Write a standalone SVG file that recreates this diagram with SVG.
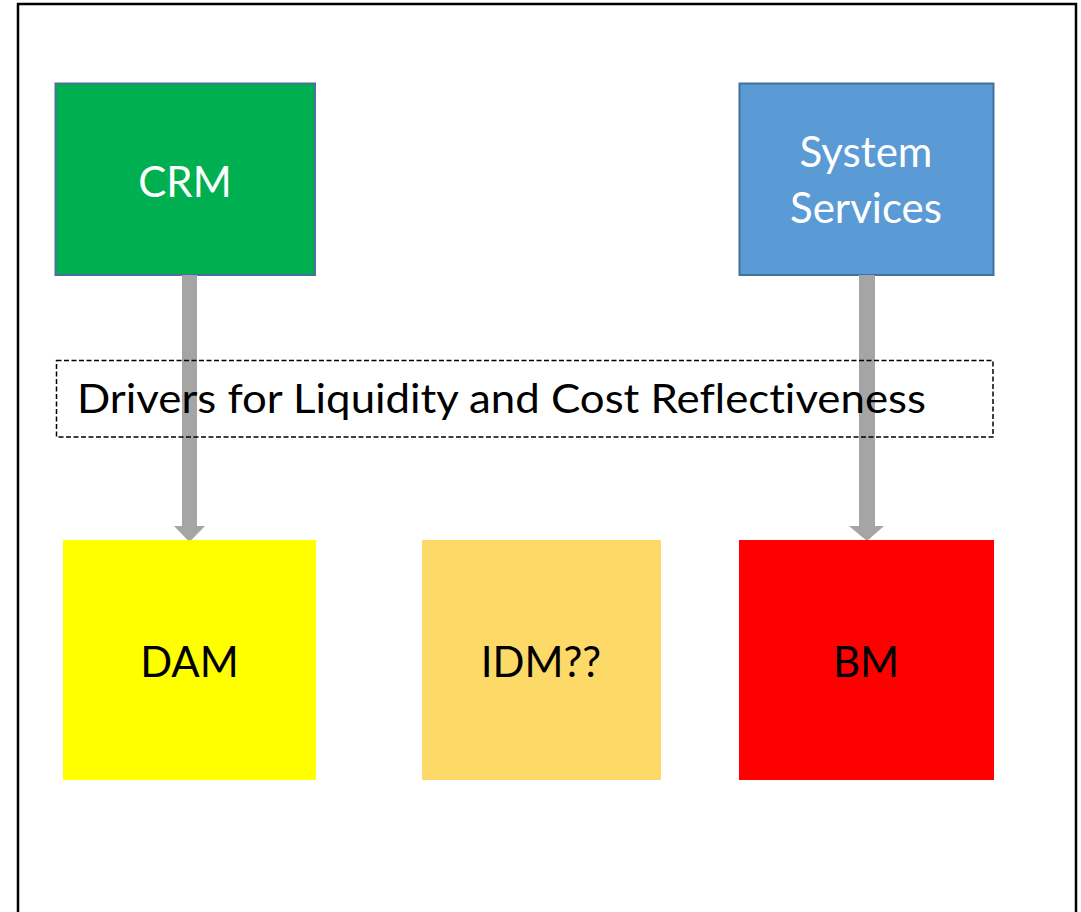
<svg xmlns="http://www.w3.org/2000/svg" width="1081" height="912" viewBox="0 0 1081 912">
  <style>
    text { font-family: Lato, "Open Sans", "Liberation Sans", sans-serif; font-variant-ligatures: none; }
    .lbl { font-size: 42px; text-anchor: middle; }
    .light { fill: #ffffff; }
    .dark { fill: #000000; }
    .conn { fill: #a5a5a5; }
  </style>
  <rect width="1081" height="912" fill="#ffffff"/>
  <!-- slide frame -->
  <path d="M18,930 V4 H1076 V930" fill="none" stroke="#000000" stroke-width="2.5"/>

  <g id="crm">
    <rect x="55.5" y="83.5" width="259.5" height="191.5" fill="#00b050" stroke="#4a6fa0" stroke-width="2"/>
    <text class="lbl light" x="185" y="197">CRM</text>
  </g>
  <g id="system-services">
    <rect x="739.5" y="83.5" width="254" height="191.5" fill="#5b9bd5" stroke="#41719c" stroke-width="2"/>
    <text class="lbl light" x="866" y="167">System</text>
    <text class="lbl light" x="866" y="223">Services</text>
  </g>

  <g id="connectors">
    <polygon class="conn" points="182,275 197,275 197,526 205,526 189.5,542 174,526 182,526"/>
    <polygon class="conn" points="859,275 875,275 875,526 884,526 867,541 849,526 859,526"/>
  </g>

  <g id="drivers">
    <rect x="56.5" y="360.5" width="936.5" height="76.5" fill="none" stroke="#000000" stroke-width="1.5" stroke-dasharray="5,2.5"/>
    <text x="77" y="413" font-size="40" textLength="849" lengthAdjust="spacingAndGlyphs">Drivers for Liquidity and Cost Reflectiveness</text>
  </g>

  <g id="dam">
    <rect x="63" y="540" width="253" height="240" fill="#ffff00"/>
    <text class="lbl dark" x="189.5" y="677">DAM</text>
  </g>
  <g id="idm">
    <rect x="422" y="540" width="239" height="240" fill="#fdd968"/>
    <text class="lbl dark" x="541" y="677">IDM??</text>
  </g>
  <g id="bm">
    <rect x="739" y="540" width="255" height="240" fill="#ff0000"/>
    <text class="lbl dark" x="866" y="677">BM</text>
  </g>
</svg>
